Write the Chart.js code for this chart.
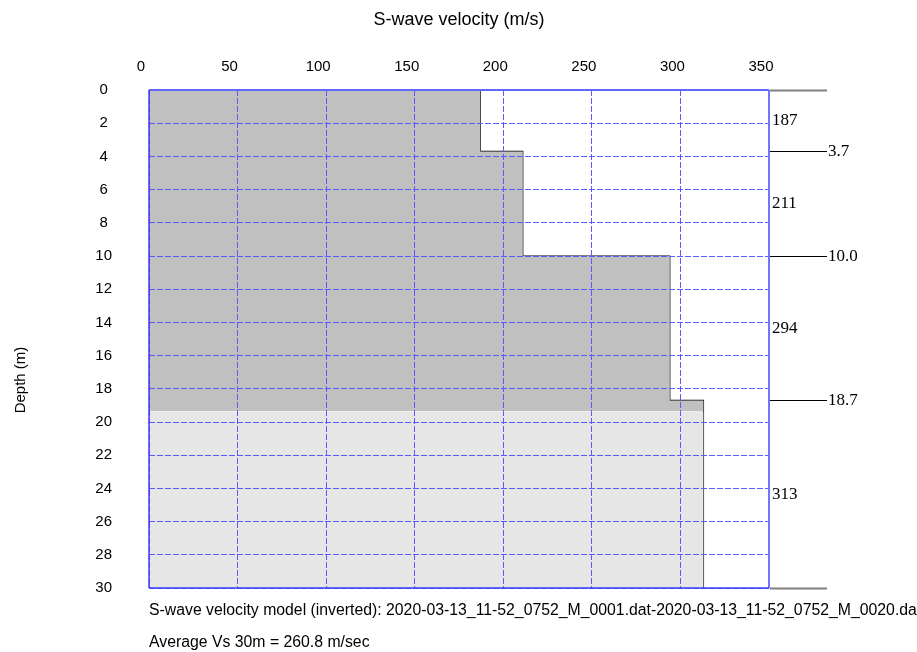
<!DOCTYPE html>
<html>
<head>
<meta charset="utf-8">
<title>S-wave velocity profile</title>
<script src="https://cdn.jsdelivr.net/npm/chart.js@4.4.1/dist/chart.umd.min.js"></script>
<style>
    html, body { margin: 0; padding: 0; background: #fff; }
    #wrap { width: 917px; height: 652px; }
</style>
</head>
<body>
<div id="wrap"><canvas id="vsChart" width="917" height="652"></canvas></div>
<script>
// layer model
const layerVelocity = [187, 211, 294, 313];
const layerTop = [0, 3.7, 10.0, 18.7];
const layerBottom = [3.7, 10.0, 18.7, 30];
const boundaryDepths = [0, 3.7, 10.0, 18.7, 30];
const shadeDepth = 19.35; // where the dark shading stops
const velocityTicks = [0, 50, 100, 150, 200, 250, 300, 350];
const depthTicks = [0, 2, 4, 6, 8, 10, 12, 14, 16, 18, 20, 22, 24, 26, 28, 30];
const modelNote = "S-wave velocity model (inverted): 2020-03-13_11-52_0752_M_0001.dat-2020-03-13_11-52_0752_M_0020.dat";
const averageNote = "Average Vs 30m = 260.8 m/sec";

const SANS = "'Liberation Sans', Arial, sans-serif";
const SERIF = "'Liberation Serif', 'Times New Roman', serif";

// step profile between two depths, built from the layer arrays
function profilePoints(fromDepth, toDepth) {
    const pts = [];
    layerVelocity.forEach((vs, i) => {
        const top = Math.max(layerTop[i], fromDepth);
        const bottom = Math.min(layerBottom[i], toDepth);
        if (bottom > top) {
            pts.push({ x: vs, y: top }, { x: vs, y: bottom });
        }
    });
    return pts;
}

const annotate = {
    id: "annotate",
    afterDraw(chart) {
        const { ctx, chartArea: a, scales: { y } } = chart;
        ctx.save();

        // plot frame
        const frame = (x1, y1, x2, y2, color, w) => {
            ctx.strokeStyle = color;
            ctx.lineWidth = w;
            ctx.beginPath();
            ctx.moveTo(x1, y1);
            ctx.lineTo(x2, y2);
            ctx.stroke();
        };
        frame(a.left, a.top, a.right, a.top, "rgb(100,100,255)", 2);
        frame(a.right, a.top, a.right, a.bottom, "rgb(115,115,255)", 2);
        frame(a.left, a.top, a.left, a.bottom, "rgb(60,60,255)", 1.5);
        frame(a.left, a.bottom, a.right, a.bottom, "rgb(60,60,255)", 1.5);

        // layer boundaries on the right
        ctx.font = "17px " + SERIF;
        ctx.fillStyle = "#000";
        ctx.textBaseline = "middle";
        ctx.textAlign = "left";
        boundaryDepths.forEach((d, i) => {
            const edge = i === 0 || i === boundaryDepths.length - 1;
            const py = Math.round(y.getPixelForValue(d)) + 0.5;
            ctx.strokeStyle = edge ? "#808080" : "#000";
            ctx.lineWidth = edge ? 2 : 1;
            ctx.beginPath();
            ctx.moveTo(a.right + 1, py);
            ctx.lineTo(a.right + 58, py);
            ctx.stroke();
            if (!edge) ctx.fillText(d.toFixed(1), a.right + 59, py);
        });

        // layer velocities
        layerVelocity.forEach((vs, i) => {
            const py = y.getPixelForValue((layerTop[i] + layerBottom[i]) / 2);
            ctx.fillText(String(vs), a.right + 3, py);
        });

        // depth title
        ctx.font = "15px " + SANS;
        ctx.textAlign = "center";
        ctx.translate(21, 380);
        ctx.rotate(-Math.PI / 2);
        ctx.fillText("Depth (m)", 0, 0);
        ctx.setTransform(1, 0, 0, 1, 0, 0);

        // notes under the plot
        ctx.font = "15.8px " + SANS;
        ctx.textAlign = "left";
        ctx.fillText(modelNote, a.left, 611);
        ctx.fillText(averageNote, a.left, 643);
        ctx.restore();
    }
};

const gridStyle = { z: 1, color: "rgb(90,90,255)", lineWidth: 1, drawTicks: false };

new Chart(document.getElementById("vsChart"), {
    type: "line",
    data: {
        datasets: [
            {
                data: profilePoints(0, shadeDepth),
                fill: "origin",
                backgroundColor: "#c0c0c0",
                borderColor: "transparent",
                borderWidth: 0,
                pointRadius: 0
            },
            {
                data: profilePoints(shadeDepth, 30),
                fill: "origin",
                backgroundColor: "#e6e6e6",
                borderColor: "transparent",
                borderWidth: 0,
                pointRadius: 0
            },
            {
                data: profilePoints(0, 30),
                fill: false,
                borderColor: "#000",
                borderWidth: 1.2,
                pointRadius: 0
            }
        ]
    },
    options: {
        responsive: false,
        animation: false,
        indexAxis: "y",
        layout: { padding: { left: 0, top: 0, right: 148, bottom: 64 } },
        plugins: { legend: { display: false }, tooltip: { enabled: false } },
        scales: {
            x: {
                type: "linear",
                position: "top",
                min: 0,
                max: 350,
                afterFit: s => { s.height = 90; },
                afterBuildTicks: s => { s.ticks = velocityTicks.map(v => ({ value: v })); },
                grid: gridStyle,
                border: { display: false, dash: [6, 2] },
                ticks: { padding: 14, labelOffset: -8, maxRotation: 0, color: "#000", font: { family: SANS, size: 15 } },
                title: {
                    display: true,
                    text: "S-wave velocity (m/s)",
                    color: "#000",
                    font: { family: SANS, size: 18 },
                    padding: { top: 9, bottom: 0 }
                }
            },
            y: {
                type: "linear",
                reverse: true,
                min: 0,
                max: 30,
                afterFit: s => { s.width = 149; },
                afterBuildTicks: s => { s.ticks = depthTicks.map(v => ({ value: v })); },
                grid: gridStyle,
                border: { display: false, dash: [6, 2] },
                ticks: { padding: 37, crossAlign: "center", color: "#000", font: { family: SANS, size: 15 } }
            }
        }
    },
    plugins: [annotate]
});
</script>
</body>
</html>
